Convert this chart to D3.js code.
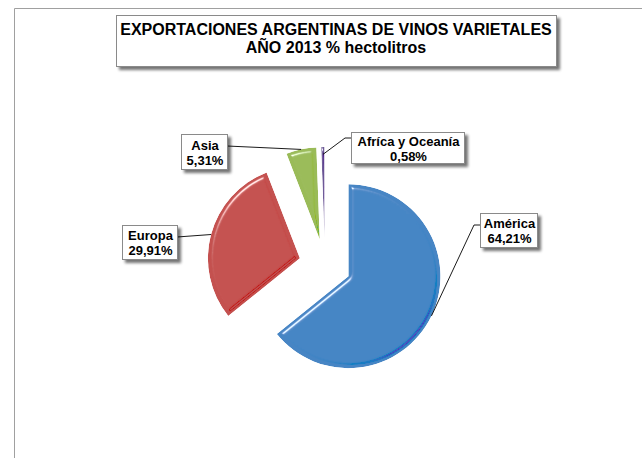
<!DOCTYPE html>
<html>
<head>
<meta charset="utf-8">
<script src="https://cdn.jsdelivr.net/npm/d3@7"></script>
<style>
  html, body { margin: 0; padding: 0; background: #fff; }
  svg { display: block; }
  text { font-family: "Liberation Sans", Arial, sans-serif; font-weight: bold; fill: #000; }
</style>
</head>
<body>
<script>
// ---- data ----
const titleLines = ["EXPORTACIONES ARGENTINAS DE VINOS VARIETALES", "AÑO 2013 % hectolitros"];
const categories = ["América", "Europa", "Asia", "Afríca y Oceanía"];
const values = [64.21, 29.91, 5.31, 0.58];
const valueLabels = ["64,21%", "29,91%", "5,31%", "0,58%"];
const colors = ["#4685c4", "#c4514f", "#9abb59", "#6e5b97"];

// ---- layout ----
const W = 642, H = 458;
const cx = 325, cy = 265, R = 92, explode = 26;
const boxes = [
  {x: 480, y: 213, w: 57, h: 34, side: "left", elbow: 6},
  {x: 122, y: 225, w: 55, h: 34, side: "right", elbow: 0},
  {x: 181, y: 134, w: 46, h: 35, side: "right", elbow: 0},
  {x: 351, y: 132, w: 113, h: 31, side: "left", elbow: 6}
];

const svg = d3.select("body").append("svg").attr("width", W).attr("height", H);
const defs = svg.append("defs");

// shadow filter
const sh = defs.append("filter").attr("id", "shadow").attr("x", "-20%").attr("y", "-20%").attr("width", "150%").attr("height", "160%");
sh.append("feGaussianBlur").attr("in", "SourceAlpha").attr("stdDeviation", 1.5).attr("result", "b");
sh.append("feOffset").attr("in", "b").attr("dx", 2.5).attr("dy", 2.5).attr("result", "o");
sh.append("feComponentTransfer").attr("in", "o").attr("result", "o2")
  .append("feFuncA").attr("type", "linear").attr("slope", 0.55);
const shm = sh.append("feMerge");
shm.append("feMergeNode").attr("in", "o2");
shm.append("feMergeNode").attr("in", "SourceGraphic");

// bevel filter: highlight on lit edges, darkening on the far edges
const bv = defs.append("filter").attr("id", "bevel").attr("x", "-10%").attr("y", "-10%").attr("width", "125%").attr("height", "125%");
bv.append("feGaussianBlur").attr("in", "SourceAlpha").attr("stdDeviation", 2).attr("result", "blur");
bv.append("feSpecularLighting").attr("in", "blur").attr("surfaceScale", 5).attr("specularConstant", 1)
  .attr("specularExponent", 40).attr("lighting-color", "#ffffff").attr("result", "spec")
  .append("feDistantLight").attr("azimuth", 235).attr("elevation", 35);
bv.append("feComposite").attr("in", "spec").attr("in2", "SourceAlpha").attr("operator", "in").attr("result", "specOut");
bv.append("feSpecularLighting").attr("in", "blur").attr("surfaceScale", 5).attr("specularConstant", 1)
  .attr("specularExponent", 30).attr("lighting-color", "#ffffff").attr("result", "spec2")
  .append("feDistantLight").attr("azimuth", 45).attr("elevation", 35);
bv.append("feComposite").attr("in", "spec2").attr("in2", "SourceAlpha").attr("operator", "in").attr("result", "specOut2");
bv.append("feComposite").attr("in", "SourceGraphic").attr("in2", "specOut").attr("operator", "arithmetic")
  .attr("k1", 0).attr("k2", 1).attr("k3", 0.8).attr("k4", 0).attr("result", "a1");
bv.append("feComposite").attr("in", "a1").attr("in2", "specOut2").attr("operator", "arithmetic")
  .attr("k1", 0).attr("k2", 1).attr("k3", -0.35).attr("k4", 0).attr("result", "a2");
bv.append("feComposite").attr("in", "a2").attr("in2", "SourceAlpha").attr("operator", "in");

// outer frame
svg.append("line").attr("x1", 14.5).attr("y1", 8.5).attr("x2", W).attr("y2", 8.5).attr("stroke", "#a0a0a0");
svg.append("line").attr("x1", 14.5).attr("y1", 8.5).attr("x2", 14.5).attr("y2", H).attr("stroke", "#a0a0a0");

// title box
svg.append("rect").attr("x", 116.5).attr("y", 15.5).attr("width", 440).attr("height", 51)
  .attr("fill", "#fff").attr("stroke", "#8a8a8a").attr("filter", "url(#shadow)");
svg.selectAll("text.title").data(titleLines).join("text").attr("class", "title")
  .attr("x", 336).attr("y", (d, i) => 35 + i * 18).attr("text-anchor", "middle")
  .attr("font-size", "16px").text(d => d);

// pie
const pie = d3.pie().sort(null).value(d => d)(values);
const arc = d3.arc().innerRadius(0).outerRadius(R);
const g = svg.append("g").attr("transform", `translate(${cx},${cy})`);
function off(d, k) {
  const a = (d.startAngle + d.endAngle) / 2;
  return [Math.sin(a) * k, -Math.cos(a) * k];
}
g.selectAll("path.slice").data(pie).join("path").attr("class", "slice")
  .attr("transform", d => { const o = off(d, explode); return `translate(${o[0]},${o[1]})`; })
  .attr("d", arc).attr("fill", (d, i) => colors[i]).attr("filter", "url(#bevel)");

// labels + leaders
pie.forEach((d, i) => {
  const b = boxes[i];
  const o = off(d, explode);
  const e = off(d, i === 3 ? R * 0.92 : R);
  const px = cx + o[0] + e[0], py = cy + o[1] + e[1];
  const ly = b.y + (i === 3 ? 6 : 12);
  const pts = b.side === "left"
    ? [[px, py], [b.x - b.elbow, ly], [b.x, ly]]
    : [[px, py], [b.x + b.w, ly]];
  svg.append("path").attr("d", d3.line()(pts)).attr("fill", "none").attr("stroke", "#000").attr("stroke-width", 0.9);
  svg.append("rect").attr("x", b.x + 0.5).attr("y", b.y + 0.5).attr("width", b.w).attr("height", b.h)
    .attr("fill", "#fff").attr("stroke", "#8a8a8a").attr("filter", "url(#shadow)");
  const tx = b.x + b.w / 2 + 1;
  svg.append("text").attr("x", tx).attr("y", b.y + b.h / 2 - 2).attr("text-anchor", "middle")
    .attr("font-size", "13px").text(categories[i]);
  svg.append("text").attr("x", tx).attr("y", b.y + b.h / 2 + 13).attr("text-anchor", "middle")
    .attr("font-size", "13px").text(valueLabels[i]);
});
</script>
</body>
</html>
